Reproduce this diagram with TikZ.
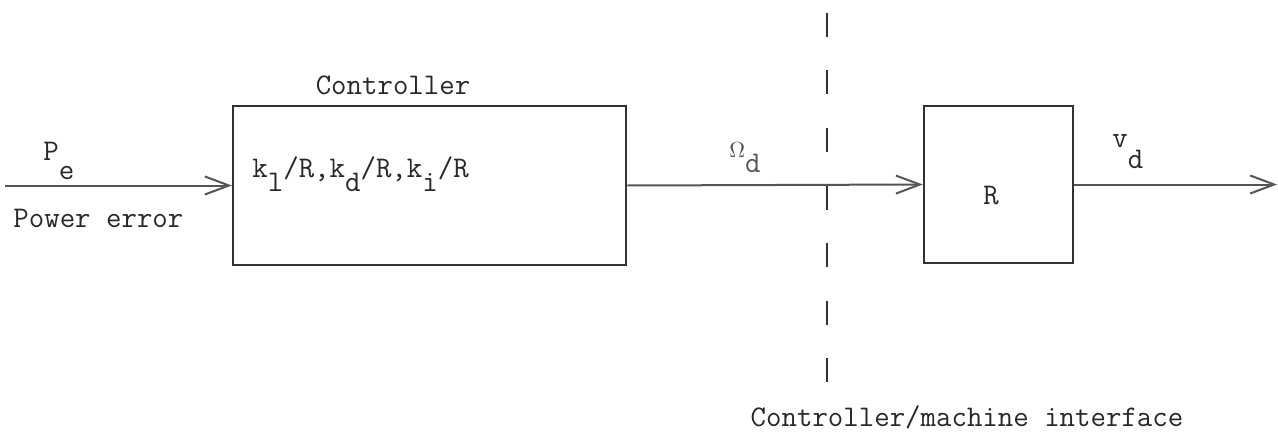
\documentclass[tikz,border=0pt]{standalone}
\usetikzlibrary{arrows.meta}
\definecolor{txtgray}{RGB}{40,40,40}
\definecolor{boxgray}{RGB}{50,50,50}
\definecolor{siggray}{RGB}{85,85,85}
\tikzset{
  blockbox/.style={draw=boxgray, line width=1.25pt, rectangle, inner sep=0pt},
  sig/.style={draw=siggray, line width=1pt, -{Straight Barb[length=12pt,width=9pt,line width=1pt]}},
  lbl/.style={text=txtgray, font=\fontsize{15}{17}\selectfont\ttfamily, inner sep=0pt},
  interface/.style={draw=boxgray, line width=1pt, dash pattern=on 12pt off 16.75pt}
}
\newcommand{\subdn}[2]{\raisebox{-#1}{#2}}
\begin{document}
\begin{tikzpicture}[x=0.5pt,y=-0.5pt]
\useasboundingbox[fill=white] (0,0) rectangle (1278,433);
% blocks
\node[blockbox, minimum width=196.5pt, minimum height=79.5pt] (ctrl) at (429.5,185.5) {};
\node[blockbox, minimum width=74.5pt, minimum height=78.5pt] (rbox) at (998.5,184.5) {};
% interface line
\coordinate (itop) at (827,13);
\coordinate (ibot) at (827,383);
\draw[interface] (itop) -- (ibot);
% signals
\coordinate (in) at (5,185.5);
\coordinate (out) at (1277,184.5);
\draw[sig] (in) -- (ctrl.west);
\draw[sig] (ctrl.east) -- (rbox.west);
\draw[sig] (rbox.east) -- (out);
% labels
\node[lbl, anchor=base] (ctitle) at (393,95) {Controller};
\node[lbl, anchor=base west] (gains) at (252,177) {k\subdn{7pt}{l}/R,k\subdn{7pt}{d}/R,k\subdn{7pt}{i}/R};
\node[lbl, anchor=base west] (pe) at (43,160) {P\subdn{9.5pt}{e}};
\node[lbl, anchor=base west] (perr) at (13,227) {Power error};
\node[lbl, anchor=base west, text=siggray] (omd) at (729,157) {{\fontsize{11}{13}\selectfont$\Omega$}\subdn{7.5pt}{d}};
\node[lbl] (rlab) at (991,196) {R};
\node[lbl, anchor=base west] (vd) at (1112,148) {v\subdn{10pt}{d}};
\node[lbl, anchor=base] (ilab) at (967,426) {Controller/machine interface};
\end{tikzpicture}
\end{document}
